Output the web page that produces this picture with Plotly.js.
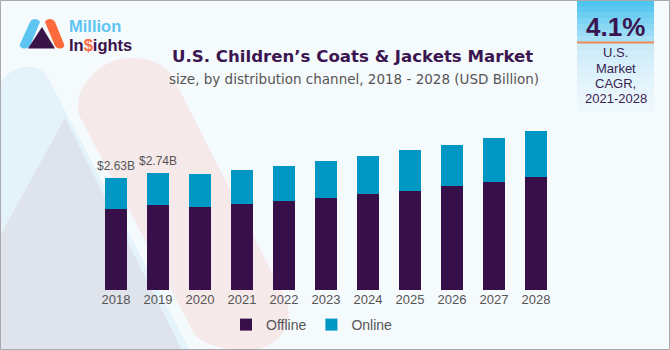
<!DOCTYPE html>
<html><head><meta charset="utf-8">
<script src="https://cdn.plot.ly/plotly-3.0.1.min.js"></script>
<style>html,body{margin:0;padding:0;background:#f5fafd;}#chart{width:670px;height:350px;}</style>
</head><body><div id="chart"></div>
<script>
const years = ['2018','2019','2020','2021','2022','2023','2024','2025','2026','2027','2028'];
const offline = [1.90, 1.98, 1.95, 2.01, 2.08, 2.15, 2.24, 2.33, 2.44, 2.54, 2.65];
const online  = [0.73, 0.76, 0.77, 0.79, 0.82, 0.86, 0.89, 0.94, 0.96, 1.01, 1.07];
const valueLabels = ['$2.63B', '$2.74B'];

// plot-area pixel frame
const L = 95, R = 557, T = 119, B = 290;
const px = X => (X - L) / (R - L);
const py = Y => (B - Y) / (B - T);
function path(cmds){
  return cmds.map(c => {
    const out = [c[0]];
    for (let i = 1; i < c.length; i += 2) out.push(px(c[i]).toFixed(5) + ',' + py(c[i+1]).toFixed(5));
    return out.join(' ');
  }).join(' ') + ' Z';
}
const shapes = [];
function addPath(cmds, color, layer){
  shapes.push({type:'path', xref:'paper', yref:'paper', path: path(cmds), fillcolor: color, line:{width:0}, layer: layer || 'below'});
}
function addRect(x0,y0,x1,y1,color,layer){
  shapes.push({type:'rect', xref:'paper', yref:'paper', x0:px(x0), x1:px(x1), y0:py(y1), y1:py(y0), fillcolor:color, line:{width:0}, layer: layer || 'below'});
}
// background decorations
addPath([['M',-5,100],['C',-5,70,35,55,48,78],['L',200,370],['L',-5,370]], '#e4f2fa');
addPath([['M',65,118],['L',192,370],['L',-5,370],['L',-5,245]], '#dfe3eb');
addPath([['M',80,117],['C',70,90,100,58,130,58],['C',148,58,162,62,172,75],['L',285,298],['C',298,325,275,352,245,350],['C',220,349,205,345,195,335]], '#f6e9ea');

// CAGR box gradient
const topCols = ['#4fc4ef','#5ec9f0','#6dcef2','#7cd3f3','#8bd8f4','#9adcf5','#a8e0f6'];
for (let i = 0; i < 7; i++) addRect(577, i*6, 654, i*6+6.2, topCols[i], 'above');
const lowCols = ['#cbeaf8','#d1edf9','#d7effa','#dcf1fa','#e1f3fb','#e6f5fc','#eaf6fc','#edf8fd'];
for (let i = 0; i < 8; i++) addRect(577, 43 + i*8.5, 654, 43 + i*8.5 + 8.7, lowCols[i], 'above');
shapes.push({type:'line', xref:'paper', yref:'paper', x0:px(577), x1:px(654), y0:py(42.5), y1:py(42.5), line:{color:'#f0875a', width:2}, layer:'above'});

// logo
addPath([['M',20,44],['L',30,22],['C',32,18,38,18,40,22],['L',30,46],['C',28,50,18,49,20,44]], '#5ec4f1', 'above');
addPath([['M',45,22],['C',47,18,53,18,55,22],['L',64,44],['C',66,49,57,50,55,46]], '#ff6a3d', 'above');
addPath([['M',42,27],['L',55,48.5],['L',28,48.5]], '#3a1449', 'above');

// border
shapes.push({type:'rect', xref:'paper', yref:'paper', x0:px(0.5), x1:px(669.5), y0:py(349.5), y1:py(0.5), line:{color:'#a9a9a9', width:1}, fillcolor:'rgba(0,0,0,0)', layer:'above'});

const purple = '#3a1550';
const logoFont = 'Liberation Sans, Arial, sans-serif';
const annotations = [
  {xref:'paper', yref:'paper', x:px(352), y:py(57), text:'<b>U.S. Children’s Coats &amp; Jackets Market</b>', showarrow:false, font:{family:'DejaVu Sans, sans-serif', size:16.6, color:purple}, xanchor:'center', yanchor:'middle'},
  {xref:'paper', yref:'paper', x:px(354), y:py(79), text:'size, by distribution channel, 2018 - 2028 (USD Billion)', showarrow:false, font:{family:'DejaVu Sans, sans-serif', size:13.5, color:'#555555'}, xanchor:'center', yanchor:'middle'},
  {xref:'paper', yref:'paper', x:px(68), y:py(25.5), text:'Million', showarrow:false, font:{family:logoFont, size:16.5, weight:600, color:'#5ec4f1'}, xanchor:'left', yanchor:'middle', borderpad:0},
  {xref:'paper', yref:'paper', x:px(68), y:py(44.5), text:'In<span style="color:#ff6a3d">$</span>ights', showarrow:false, font:{family:logoFont, size:16.5, weight:600, color:'#3a1449'}, xanchor:'left', yanchor:'middle', borderpad:0},
  {xref:'paper', yref:'paper', x:px(615.5), y:py(27), text:'<b>4.1%</b>', showarrow:false, font:{family:'Liberation Sans, Arial, sans-serif', size:26, color:purple}, xanchor:'center', yanchor:'middle'},
];
['U.S.','Market','CAGR,','2021-2028'].forEach((t,i) => annotations.push({xref:'paper', yref:'paper', x:px(615.5), y:py(53 + i*15), text:t, showarrow:false, font:{family:'Liberation Sans, Arial, sans-serif', size:13, color:'#3a2452'}, xanchor:'center', yanchor:'middle'}));
valueLabels.forEach((t,i) => annotations.push({x:i, y:offline[i]+online[i], xref:'x', yref:'y', text:t, showarrow:false, yanchor:'bottom', yshift:3, font:{family:'Liberation Sans, Arial, sans-serif', size:12, color:'#555555'}}));

const data = [
  {type:'bar', name:'Offline', x:years, y:offline, marker:{color:'#37104a', line:{width:0}}, hoverinfo:'skip'},
  {type:'bar', name:'Online', x:years, y:online, marker:{color:'#0097c4', line:{width:0}}, hoverinfo:'skip'}
];
const layout = {
  width:670, height:350,
  margin:{l:L, r:670-R, t:T, b:350-B, pad:0, autoexpand:false},
  paper_bgcolor:'#f5fafd', plot_bgcolor:'rgba(0,0,0,0)',
  barmode:'stack', bargap:0.46,
  showlegend:true,
  legend:{orientation:'h', traceorder:'normal', xref:'container', yref:'container', x:312/670, xanchor:'center', y:1 - 325/350, yanchor:'middle', font:{family:'Liberation Sans, Arial, sans-serif', size:14, color:'#555555'}, bgcolor:'rgba(0,0,0,0)', itemwidth:30},
  xaxis:{type:'category', range:[-0.5, years.length - 0.5], autorange:false, automargin:false, showgrid:false, zeroline:false, showline:false, ticks:'', tickfont:{family:'Liberation Sans, Arial, sans-serif', size:13, color:'#555555'}, fixedrange:true},
  yaxis:{range:[0, (B-T)/42.7], autorange:false, automargin:false, showgrid:false, zeroline:false, showline:false, showticklabels:false, ticks:'', fixedrange:true},
  shapes:shapes, annotations:annotations
};
Plotly.newPlot('chart', data, layout, {displayModeBar:false, staticPlot:true});
</script></body></html>
